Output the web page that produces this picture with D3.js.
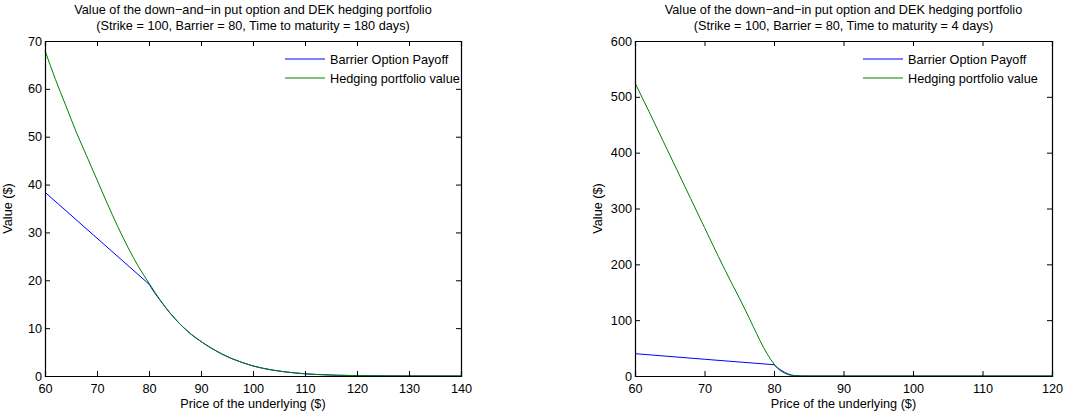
<!DOCTYPE html>
<html>
<head>
<meta charset="utf-8">
<script src="https://cdn.jsdelivr.net/npm/d3@7"></script>
<style>
  body { margin: 0; background: #fff; }
  svg { font-family: "Liberation Sans", Arial, sans-serif; }
</style>
</head>
<body>
<svg id="chart" width="1090" height="416"></svg>
<script>
const titleLine1 = "Value of the down\u2212and\u2212in put option and DEK hedging portfolio";
const xLabel = "Price of the underlying ($)";
const yLabel = "Value ($)";
const seriesNames = ["Barrier Option Payoff", "Hedging portfolio value"];
const seriesColors = ["#0000ff", "#008000"];

// left panel: 180 days to maturity
const leftSubtitle = "(Strike = 100, Barrier = 80, Time to maturity = 180 days)";
const leftXTicks = [60, 70, 80, 90, 100, 110, 120, 130, 140];
const leftYTicks = [0, 10, 20, 30, 40, 50, 60, 70];
const leftPayoff = [
  [60, 38.4], [65, 33.6], [70, 28.8], [75, 24.0], [80, 19.2], [81, 17.5], [82, 16.0],
  [83, 14.6], [84, 13.2], [85, 12.0], [86, 10.8], [87, 9.8], [88, 8.8], [89, 8.0],
  [90, 7.2], [92, 5.8], [94, 4.6], [96, 3.6], [98, 2.8], [100, 2.1], [102, 1.6],
  [104, 1.2], [106, 0.88], [108, 0.65], [110, 0.46], [112, 0.33], [116, 0.16],
  [120, 0.08], [125, 0.03], [130, 0.01], [140, 0]
];
const leftHedge = [
  [60, 68], [62, 62], [64, 56.5], [66, 51], [68, 46], [70, 41], [72, 36], [74, 31.2],
  [76, 26.8], [78, 22.8], [80, 19.4], [82, 16.1], [84, 13.2], [86, 10.8], [88, 8.8],
  [90, 7.2], [92, 5.8], [94, 4.6], [96, 3.6], [98, 2.8], [100, 2.1], [104, 1.2],
  [108, 0.65], [112, 0.33], [116, 0.16], [120, 0.08], [125, 0.03], [130, 0.01], [140, 0]
];

// right panel: 4 days to maturity
const rightSubtitle = "(Strike = 100, Barrier = 80, Time to maturity = 4 days)";
const rightXTicks = [60, 70, 80, 90, 100, 110, 120];
const rightYTicks = [0, 100, 200, 300, 400, 500, 600];
const rightPayoff = [
  [60, 40], [70, 30], [80, 20.2], [80.5, 15], [81, 10.5], [81.5, 6.8], [82, 3.8],
  [82.5, 1.8], [83, 0.6], [84, 0.1], [85, 0], [120, 0]
];
const rightHedge = [
  [60, 525], [62, 474], [64, 422], [66, 370], [68, 318], [70, 266], [72, 214],
  [74, 164], [75, 140], [76, 115], [77, 89], [78, 63], [79, 40], [80, 21.5],
  [80.5, 14], [81, 9], [81.5, 5.2], [82, 2.6], [82.5, 1.1], [83, 0.4], [84, 0.05],
  [86, 0], [120, 0]
];

const svg = d3.select("#chart");
const plotTop = 41, plotBottom = 376;
const fontSize = 12.7;

drawPanel({
  left: 45, right: 461,
  subtitle: leftSubtitle,
  xDomain: [60, 140], yDomain: [0, 70],
  xTicks: leftXTicks, yTicks: leftYTicks,
  series: [leftPayoff, leftHedge],
  legendX: 285
});

drawPanel({
  left: 635, right: 1052,
  subtitle: rightSubtitle,
  xDomain: [60, 120], yDomain: [0, 600],
  xTicks: rightXTicks, yTicks: rightYTicks,
  series: [rightPayoff, rightHedge],
  legendX: 863
});

function drawPanel(p) {
  const x = d3.scaleLinear().domain(p.xDomain).range([p.left, p.right]);
  const y = d3.scaleLinear().domain(p.yDomain).range([plotBottom, plotTop]);
  const g = svg.append("g");
  const cx = (p.left + p.right) / 2;

  //titles
  g.append("text").attr("x", cx).attr("y", 14).attr("text-anchor", "middle")
    .attr("font-size", fontSize).text(titleLine1);
  g.append("text").attr("x", cx).attr("y", 30).attr("text-anchor", "middle")
    .attr("font-size", fontSize).text(p.subtitle);

  //lines: payoff has a kink at the barrier, hedge value is smooth
  const curves = [d3.curveLinear, d3.curveMonotoneX];
  p.series.forEach((s, i) => {
    const line = d3.line()
      .x(d => x(d[0]))
      .y(d => y(d[1]))
      .curve(curves[i]);
    g.append("path")
      .datum(s)
      .attr("fill", "none")
      .attr("stroke", seriesColors[i])
      .attr("stroke-width", 1)
      .attr("d", line);
  });

  //axes, inward ticks on all four sides
  const tickLen = 5;
  const fmt = d3.format("d");
  g.append("g").attr("transform", `translate(0,${plotBottom})`)
    .call(d3.axisBottom(x).tickValues(p.xTicks).tickSize(-tickLen).tickPadding(8).tickFormat(fmt));
  g.append("g").attr("transform", `translate(0,${plotTop})`)
    .call(d3.axisTop(x).tickValues(p.xTicks).tickSize(-tickLen).tickFormat(""));
  g.append("g").attr("transform", `translate(${p.left},0)`)
    .call(d3.axisLeft(y).tickValues(p.yTicks).tickSize(-tickLen).tickPadding(3).tickFormat(fmt));
  g.append("g").attr("transform", `translate(${p.right},0)`)
    .call(d3.axisRight(y).tickValues(p.yTicks).tickSize(-tickLen).tickFormat(""));

  g.selectAll(".domain").attr("stroke", "#000").attr("stroke-width", 1.2);
  g.selectAll(".tick line").attr("stroke", "#000");
  g.selectAll(".tick text").attr("font-size", fontSize).attr("fill", "#000")
    .attr("font-family", "Liberation Sans, Arial, sans-serif");

  //axis labels
  g.append("text").attr("x", cx).attr("y", 408).attr("text-anchor", "middle")
    .attr("font-size", fontSize).text(xLabel);
  g.append("text")
    .attr("transform", `translate(${p.left - 33},${(plotTop + plotBottom) / 2}) rotate(-90)`)
    .attr("text-anchor", "middle").attr("font-size", fontSize).text(yLabel);

  //legend
  seriesNames.forEach((name, i) => {
    const ly = 59 + i * 19;
    g.append("line")
      .attr("x1", p.legendX).attr("x2", p.legendX + 40)
      .attr("y1", ly).attr("y2", ly)
      .attr("stroke", seriesColors[i]).attr("stroke-width", 1);
    g.append("text")
      .attr("x", p.legendX + 45).attr("y", ly + 4.5)
      .attr("font-size", fontSize).text(name);
  });
}
</script>
</body>
</html>
